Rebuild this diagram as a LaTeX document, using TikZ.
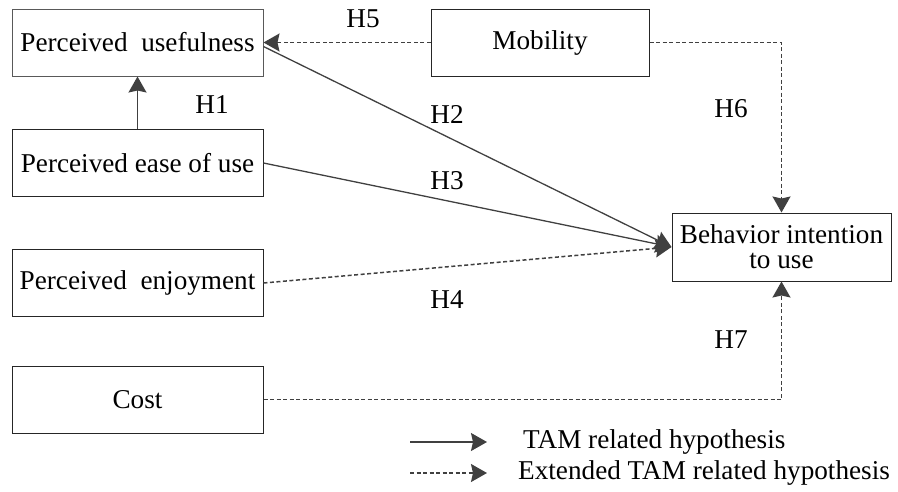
\documentclass[tikz,border=0pt]{standalone}
\usepackage{fontspec}
\setmainfont{Liberation Serif}
\usetikzlibrary{arrows.meta}

\begin{document}
\begin{tikzpicture}[x=1pt, y=-1pt, font=\fontsize{27.2}{29}\selectfont,
    box/.style = {draw=black!85, line width=1pt, minimum height=67pt, inner sep=2pt},
    wide/.style = {box, minimum width=251pt},
    tam/.style = {draw=black!75, line width=1.3pt, -{Stealth[length=16pt, width=18pt, inset=2pt]}},
    ext/.style = {tam, line width=1.5pt, dash pattern=on 4pt off 2.5pt},
    hyp/.style = {inner sep=0pt}]
    \useasboundingbox (0,0) rectangle (898,491);
    % constructs
    \node[wide, draw=black!65] (pu) at (137.5,42.5) {Perceived\ \ usefulness};
    \node[wide] (peou) at (137.5,163) {Perceived ease of use};
    \node[wide] (pe) at (137.5,283) {Perceived\ \ enjoyment};
    \node[wide] (cost) at (137.5,399.5) {Cost};
    \node[box, minimum width=218pt] (mob) at (540,42.5) {Mobility};
    \node[box, minimum width=219pt, minimum height=68pt, align=center] (bi) at (781.5,247)
        {Behavior intention\\[-4pt]to use};
    % hypotheses
    \draw[tam] (peou) -- (pu);
    \draw[tam] ([yshift=-4pt]pu.east) -- (bi.west);
    \draw[tam] (peou.east) -- (bi.west);
    \draw[ext] (pe.east) -- (bi.west);
    \draw[ext] (mob.west) -- (pu.east);
    \draw[ext] (mob.east) -| (bi.north);
    \draw[ext] (cost.east) -| (bi.south);
    \node[hyp] (h1) at (212,105) {H1};
    \node[hyp] (h2) at (447,114) {H2};
    \node[hyp] (h3) at (447,181) {H3};
    \node[hyp] (h4) at (447,300) {H4};
    \node[hyp] (h5) at (363,19) {H5};
    \node[hyp] (h6) at (731,109) {H6};
    \node[hyp] (h7) at (731,340) {H7};
    % legend
    \coordinate (la) at (410,442);
    \coordinate (lb) at (487,442);
    \coordinate (lc) at (410,473);
    \coordinate (ld) at (487,473);
    \draw[tam] (la) -- (lb);
    \draw[ext] (lc) -- (ld);
    \node[hyp, anchor=west] (ltam) at (523,442) {TAM related hypothesis};
    \node[hyp, anchor=west] (lext) at (518,473) {Extended TAM related hypothesis};
\end{tikzpicture}
\end{document}
